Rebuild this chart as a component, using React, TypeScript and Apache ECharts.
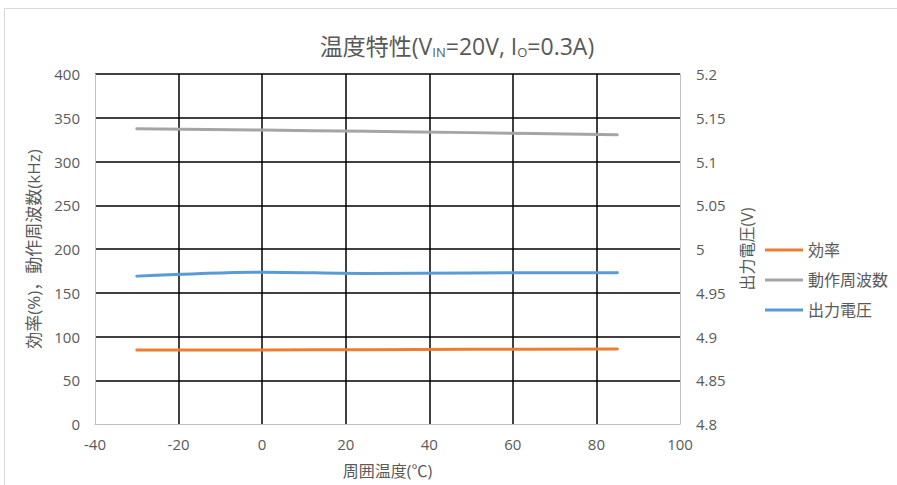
import React, { useEffect, useRef } from "react";
import * as echarts from "echarts";

const temps = [-30, 0, 25, 50, 85];
const efficiency = [84.5, 84.6, 85.0, 85.3, 85.6];
const frequency = [337.5, 336, 334.5, 333, 330.5];
const voltage = [4.969, 4.9735, 4.972, 4.9727, 4.973];

const seriesNames = ["効率", "動作周波数", "出力電圧"];
const seriesColors = ["#ED7D31", "#A5A5A5", "#5B9BD5"];

const FONT = "'Open Sans', 'Noto Sans CJK JP', sans-serif";
const TXT = "#595959";

export default function App() {
  const ref = useRef<HTMLDivElement>(null);
  useEffect(() => {
    if (!ref.current) return;
    const chart = echarts.init(ref.current, undefined, { renderer: "svg" });
    const pair = (ys: number[]) => temps.map((t, i) => [t, ys[i]]);
    chart.setOption({
      animation: false,
      backgroundColor: "#fff",
      textStyle: { fontFamily: FONT },
      graphic: [
        {
          type: "rect",
          silent: true,
          shape: { x: 4.5, y: 8.5, width: 1000, height: 1000 },
          style: { fill: "none", stroke: "#D9D9D9", lineWidth: 1 },
        },
      ],
      title: {
        text: "{m|温度特性(V}{sub|IN}{m|=20V, I}{sub|O}{m|=0.3A)}",
        left: 457,
        textAlign: "center",
        top: 33,
        padding: 0,
        textStyle: {
          fontFamily: FONT,
          fontSize: 23,
          fontWeight: "normal",
          color: TXT,
          lineHeight: 26,
          rich: {
            m: {
              fontFamily: FONT,
              fontSize: 23,
              fontWeight: "normal",
              color: TXT,
            },
            sub: {
              fontFamily: FONT,
              fontSize: 13,
              fontWeight: "normal",
              color: TXT,
              verticalAlign: "bottom",
            },
          },
        },
      },
      legend: {
        orient: "vertical",
        left: 765,
        top: 242,
        padding: 0,
        icon: "rect",
        itemWidth: 38,
        itemHeight: 3,
        itemGap: 14,
        data: seriesNames,
        textStyle: { fontFamily: FONT, fontSize: 16, color: TXT },
      },
      grid: { left: 95, right: 217, top: 74, bottom: 61, containLabel: false },
      xAxis: {
        type: "value",
        min: -40,
        max: 100,
        interval: 20,
        name: "周囲温度(℃)",
        nameLocation: "middle",
        nameGap: 39,
        nameTextStyle: { fontFamily: FONT, fontSize: 16, color: TXT },
        axisLine: { show: true, onZero: false, lineStyle: { color: "#BFBFBF", width: 1 } },
        axisTick: { show: false },
        axisLabel: { color: TXT, fontSize: 15, fontFamily: FONT, margin: 12 },
        splitLine: {
          show: true,
          showMinLine: false,
          showMaxLine: false,
          lineStyle: { color: "#000", width: 1.5 },
        },
      },
      yAxis: [
        {
          type: "value",
          min: 0,
          max: 400,
          interval: 50,
          name: "効率(%)，動作周波数(kHz)",
          nameLocation: "middle",
          nameRotate: 90,
          nameGap: 53,
          nameTextStyle: { fontFamily: FONT, fontSize: 17, color: TXT },
          axisLine: { show: true, onZero: false, lineStyle: { color: "#BFBFBF", width: 1 } },
          axisTick: { show: false },
          axisLabel: { color: TXT, fontSize: 15, fontFamily: FONT, margin: 15 },
          splitLine: {
            show: true,
            showMinLine: false,
            lineStyle: { color: "#000", width: 1.5 },
          },
        },
        {
          type: "value",
          min: 4.8,
          max: 5.2,
          interval: 0.05,
          position: "right",
          name: "出力電圧(V)",
          nameLocation: "middle",
          nameRotate: 90,
          nameGap: 59,
          nameTextStyle: { fontFamily: FONT, fontSize: 16, color: TXT },
          axisLine: { show: true, onZero: false, lineStyle: { color: "#BFBFBF", width: 1 } },
          axisTick: { show: false },
          axisLabel: {
            color: TXT,
            fontSize: 15,
            fontFamily: FONT,
            margin: 16,
            formatter: (v: number) => String(parseFloat(v.toFixed(2))),
          },
          splitLine: { show: false },
        },
      ],
      series: [
        {
          name: seriesNames[0],
          type: "line",
          yAxisIndex: 0,
          data: pair(efficiency),
          smooth: 0.3,
          showSymbol: false,
          symbol: "none",
          itemStyle: { color: seriesColors[0] },
          lineStyle: { color: seriesColors[0], width: 3, cap: "round" },
        },
        {
          name: seriesNames[1],
          type: "line",
          yAxisIndex: 0,
          data: pair(frequency),
          smooth: 0.3,
          showSymbol: false,
          symbol: "none",
          itemStyle: { color: seriesColors[1] },
          lineStyle: { color: seriesColors[1], width: 3, cap: "round" },
        },
        {
          name: seriesNames[2],
          type: "line",
          yAxisIndex: 1,
          data: pair(voltage),
          smooth: 0.3,
          showSymbol: false,
          symbol: "none",
          itemStyle: { color: seriesColors[2] },
          lineStyle: { color: seriesColors[2], width: 3, cap: "round" },
        },
      ],
    });
    return () => chart.dispose();
  }, []);
  return (
    <div
      ref={ref}
      style={{ position: "absolute", left: 0, top: 0, width: 897, height: 485 }}
    />
  );
}
